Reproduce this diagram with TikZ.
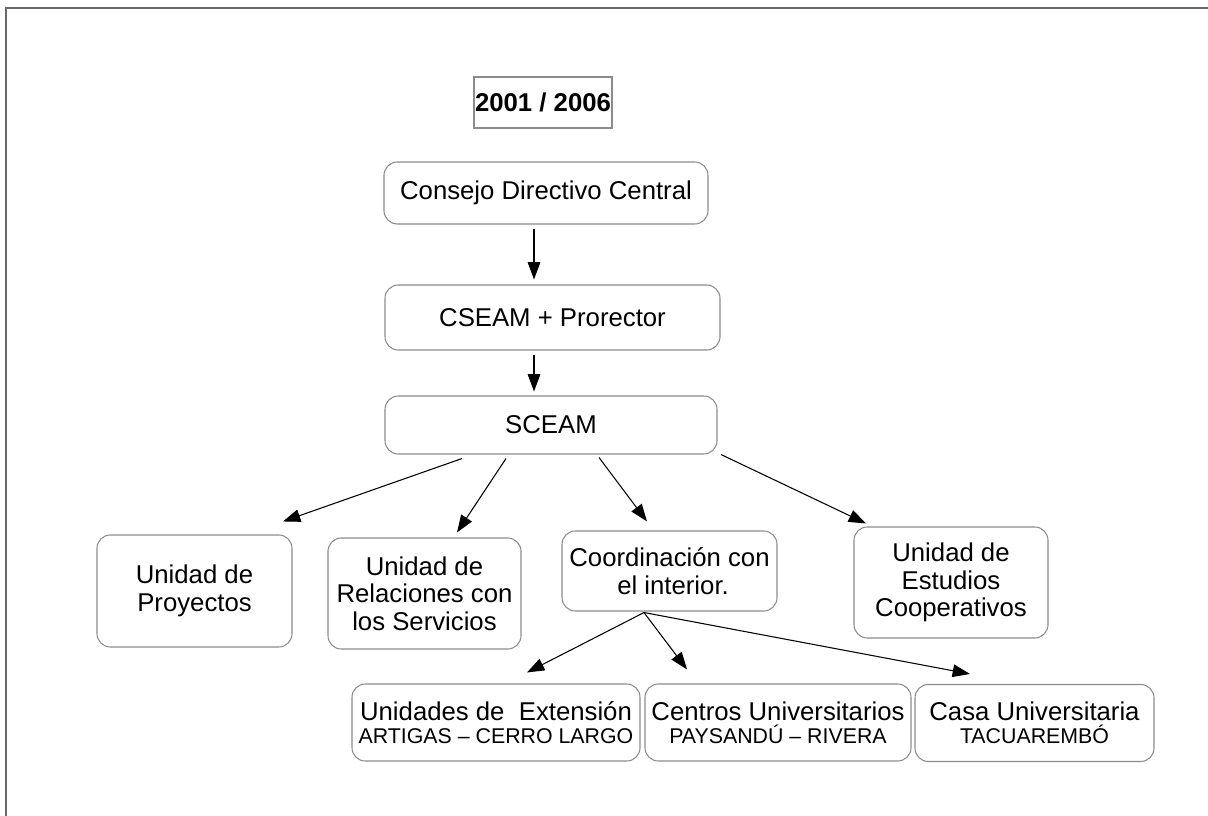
\documentclass[tikz,border=0pt]{standalone}
\usepackage{fontspec}
\setmainfont{Liberation Sans}
\usetikzlibrary{arrows.meta,calc}
\definecolor{boxgray}{RGB}{140,140,140}
\definecolor{framegray}{RGB}{105,105,105}
\newcommand{\smallline}[1]{{\fontsize{16}{17}\selectfont #1}}
\begin{document}
\begin{tikzpicture}[x=0.75pt,y=-0.75pt,
  box/.style={draw=boxgray, line width=0.8pt, rounded corners=10pt, inner sep=0pt,
    align=center, font=\fontsize{19.3}{20.5}\selectfont},
  lowbox/.style={box, font=\fontsize{19.3}{17.5}\selectfont},
  titlebox/.style={draw=boxgray, line width=0.8pt, inner sep=0pt,
    font=\bfseries\fontsize{19.3}{20}\selectfont},
  arr/.style={-{Triangle[length=13pt,width=9.5pt]}, line width=0.8pt, black}]
\useasboundingbox (0,0) rectangle (1208,816);
\fill[white] (0,0) rectangle (1208,816);
\draw[framegray, line width=1.2pt] (6,816) -- (6,8) -- (1208,8);

\node[titlebox, minimum width=103.5pt, minimum height=38.25pt] (title) at (543,102.5) {2001 / 2006};
\node[box, minimum width=243pt, minimum height=46.5pt] (consejo) at (546,193) {Consejo Directivo Central};
\node[box, minimum width=251.25pt, minimum height=48.75pt] (cseam) at (552.5,317.5) {CSEAM + Prorector};
\node[box, minimum width=249pt, minimum height=43.5pt] (sceam) at (551,425) {SCEAM};
\node[box, minimum width=146.25pt, minimum height=84pt] (proy) at (194.5,591) {Unidad de\\Proyectos};
\node[box, minimum width=144.75pt, minimum height=83.25pt] (rel) at (424.5,593.5) {Unidad de\\Relaciones con\\los Servicios};
\node[box, minimum width=161.25pt, minimum height=60pt] (coord) at (669.5,571) {Coordinación con\\\ el interior.};
\node[box, minimum width=145.5pt, minimum height=83.25pt] (estud) at (951,582.5) {Unidad de\\Estudios\\Cooperativos};
\node[lowbox, minimum width=216pt, minimum height=57.75pt] (ext) at (496,722.5) {Unidades de\ \ Extensión\\\smallline{ARTIGAS – CERRO LARGO}};
\node[lowbox, minimum width=199.5pt, minimum height=57.75pt] (cent) at (778,722.5) {Centros Universitarios\\\smallline{PAYSANDÚ – RIVERA}};
\node[lowbox, minimum width=179.25pt, minimum height=57.75pt] (casa) at (1034.5,723) {Casa Universitaria\\\smallline{TACUAREMBÓ}};

\draw[arr] ($(consejo.south)+(-12,4)$) -- ($(cseam.north)+(-18.5,-5)$);
\draw[arr] ($(cseam.south)+(-18.5,4)$) -- ($(sceam.north)+(-17,-4)$);
\draw[arr] ($(sceam.south)+(-89,4)$) -- ($(proy.north)+(88.5,-13)$);
\draw[arr] ($(sceam.south)+(-45,4)$) -- ($(rel.north)+(32.5,-5)$);
\draw[arr] ($(sceam.south)+(48,3)$) -- ($(coord.north)+(-22.5,-9)$);
\draw[arr] ($(sceam.south)+(170,0)$) -- ($(estud.north)+(-85,-3)$);
\draw[arr] ($(coord.south)+(-25.5,1)$) -- ($(ext.north)+(31,-11)$);
\draw[arr] ($(coord.south)+(-25.5,1)$) -- ($(cent.north)+(-91,-14)$);
\draw[arr] ($(coord.south)+(-25.5,1)$) -- ($(casa.north)+(-64.5,-10)$);
\end{tikzpicture}
\end{document}
